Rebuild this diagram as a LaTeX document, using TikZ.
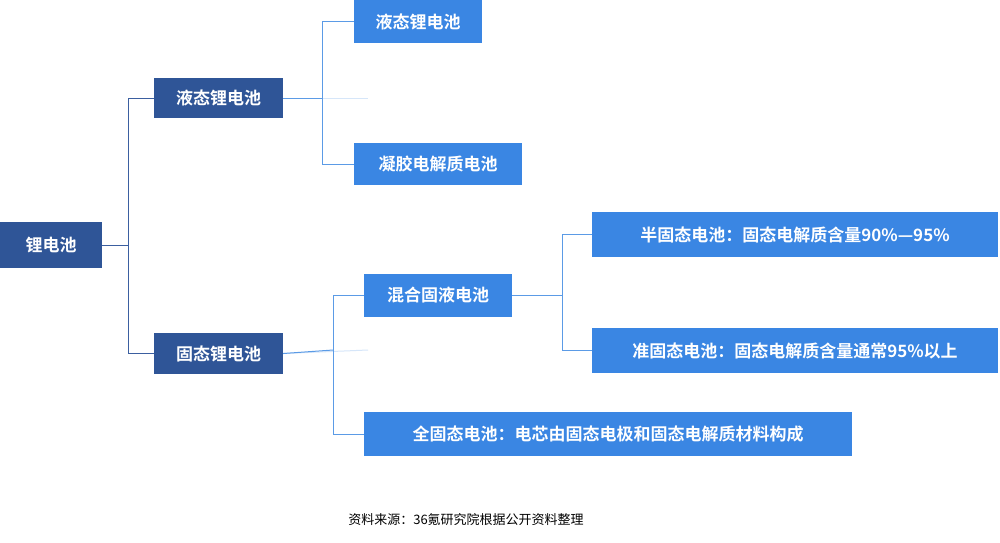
\documentclass[tikz,border=0pt]{standalone}
\usepackage{fontspec}
\setmainfont{Noto Sans CJK SC}
\newfontfamily\cjkb[FakeBold=0]{Noto Sans CJK SC Bold}
\definecolor{dk}{HTML}{2F5597}
\definecolor{lt}{HTML}{3A86E3}
\definecolor{ln1}{HTML}{3B5FA0}
\definecolor{ln2}{HTML}{5B9BE6}
\tikzset{
  bx/.style={draw=none,inner sep=0pt,text=white,font=\cjkb\fontsize{17}{17}\selectfont},
  dkb/.style={bx,fill=dk},
  ltb/.style={bx,fill=lt},
  c1/.style={draw=ln1,line width=1pt},
  c2/.style={draw=ln2,line width=1pt},
}
\begin{document}
\begin{tikzpicture}[x=1pt,y=-1pt]
\useasboundingbox (0,0) rectangle (1000,542);
\fill[white] (0,0) rectangle (1000,542);
\node[dkb,minimum width=102,minimum height=46] (root) at (51,245) {锂电池};
\node[dkb,minimum width=129,minimum height=40] (liq) at (218.5,98) {液态锂电池};
\node[dkb,minimum width=129,minimum height=41] (sol) at (218.5,353.5) {固态锂电池};
\node[ltb,minimum width=128,minimum height=43] (liq2) at (418,21.5) {液态锂电池};
\node[ltb,minimum width=168,minimum height=42] (gel) at (438,164) {凝胶电解质电池};
\node[ltb,minimum width=148,minimum height=43] (mix) at (438,295.5) {混合固液电池};
\node[ltb,minimum width=488,minimum height=44] (all) at (608,434) {全固态电池：电芯由固态电极和固态电解质材料构成};
\node[ltb,minimum width=406,minimum height=45] (semi) at (795,234.5) {半固态电池：固态电解质含量90\%—95\%};
\node[ltb,minimum width=406,minimum height=45] (quasi) at (795,350.5) {准固态电池：固态电解质含量通常95\%以上};
\node[font=\fontsize{13}{13}\selectfont] (cap) at (466,520) {资料来源：36氪研究院根据公开资料整理};
\coordinate (j1) at (128,245);
\coordinate (s1) at (368,98);
\coordinate (s2) at (368,350);
\draw[c1] (root.east) -- (j1) |- (liq.west);
\draw[c1] (j1) |- (sol.west);
\draw[ln2!25,line width=1pt] (liq.east) -- (s1);
\draw[ln2!25,line width=1pt] (sol.east) -- (s2);
\draw[c2] (322,98) |- (liq2.west);
\draw[c2] (322,98) |- (gel.west);
\draw[c2] (333,350) |- (mix.west);
\draw[c2] (333,350) |- (all.west);
\draw[c2] (mix.east) -- (562,295.5);
\draw[c2] (562,295.5) |- (semi.west);
\draw[c2] (562,295.5) |- (quasi.west);
\draw[c2] (liq.east) -- (322,98);
\draw[c2] (sol.east) -- (333,350);
\end{tikzpicture}
\end{document}
